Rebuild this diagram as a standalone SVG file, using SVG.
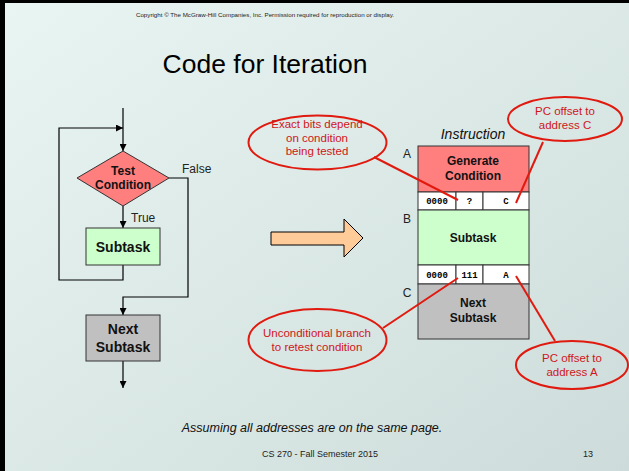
<svg xmlns="http://www.w3.org/2000/svg" width="629" height="471" viewBox="0 0 629 471">
  <defs>
    <linearGradient id="bg" x1="0" y1="0" x2="1" y2="1">
      <stop offset="0" stop-color="#e9f5f3"/>
      <stop offset="1" stop-color="#cddcda"/>
    </linearGradient>
    <marker id="arr" viewBox="0 0 10 10" refX="10" refY="5" markerWidth="7" markerHeight="7" markerUnits="userSpaceOnUse" orient="auto">
      <path d="M0,0 L10,5 L0,10 z" fill="#000"/>
    </marker>
  </defs>
  <style>
    .sans { font-family: "Liberation Sans", Arial, sans-serif; }
    .mono { font-family: "Liberation Mono", "Courier New", monospace; font-weight: bold; font-size: 9px; }
    .node { stroke: #333; stroke-width: 1; }
    .bold { font-weight: bold; font-size: 12px; fill: #111; }
    .big { font-size: 14px; }
    .flow { fill: none; stroke: #000; stroke-width: 1.2; }
    .note { fill: none; stroke: #e01a0f; stroke-width: 2; }
    .notetext { fill: #d0161b; font-size: 11.5px; }
    .lbl { font-size: 12px; fill: #222; }
    .cell { fill: #fff; stroke: #333; stroke-width: 1; }
  </style>

  <!-- slide background and frame -->
  <rect x="0" y="0" width="629" height="471" fill="url(#bg)"/>
  <rect x="0" y="0" width="5" height="471" fill="#000"/>
  <rect x="0" y="0" width="629" height="3" fill="#000"/>

  <text class="sans" x="265" y="17" font-size="6.2" text-anchor="middle" fill="#222">Copyright © The McGraw-Hill Companies, Inc.  Permission required for reproduction or display.</text>
  <text class="sans" x="265" y="73" font-size="26.5" text-anchor="middle" fill="#000">Code for Iteration</text>

  <!-- flowchart connectors -->
  <g id="connectors">
    <line class="flow" x1="123" y1="108" x2="123" y2="151" marker-end="url(#arr)"/>
    <polyline class="flow" points="123,265 123,280 59,280 59,128 123,128" marker-end="url(#arr)"/>
    <line class="flow" x1="123" y1="206" x2="123" y2="228" marker-end="url(#arr)"/>
    <polyline class="flow" points="169,178 188,178 188,297 123,297 123,315" marker-end="url(#arr)"/>
    <line class="flow" x1="123" y1="361" x2="123" y2="388" marker-end="url(#arr)"/>
  </g>
  <text class="sans lbl" x="182" y="173">False</text>
  <text class="sans lbl" x="131" y="222">True</text>

  <g id="test">
    <polygon class="node" points="123,151 169,178 123,206 77,178" fill="#ff7f7f"/>
    <text class="sans bold" x="123" y="174.5" text-anchor="middle">Test</text>
    <text class="sans bold" x="123" y="189" text-anchor="middle">Condition</text>
  </g>
  <g id="subtask">
    <rect class="node" x="86" y="228" width="74" height="37" fill="#ccffcc"/>
    <text class="sans bold big" x="123" y="251.5" text-anchor="middle">Subtask</text>
  </g>
  <g id="next">
    <rect class="node" x="86" y="315" width="74" height="46" fill="#c0c0c0"/>
    <text class="sans bold big" x="123" y="334" text-anchor="middle">Next</text>
    <text class="sans bold big" x="123" y="352" text-anchor="middle">Subtask</text>
  </g>

  <!-- block arrow -->
  <g id="bigarrow">
    <polygon points="271,232 344,232 344,219 363,238 344,257 344,245 271,245" fill="#ffcc99" stroke="#000" stroke-width="1"/>
  </g>

  <!-- instruction layout -->
  <g id="memory">
    <text class="sans" x="473" y="139" font-size="14" font-style="italic" text-anchor="middle" fill="#111">Instruction</text>
    <rect class="node" x="418" y="146" width="111" height="46" fill="#ff7f7f"/>
    <text class="sans bold" x="473" y="165" text-anchor="middle">Generate</text>
    <text class="sans bold" x="473" y="180" text-anchor="middle">Condition</text>
    <rect class="cell" x="418" y="192" width="38" height="18"/>
    <rect class="cell" x="456" y="192" width="27" height="18"/>
    <rect class="cell" x="483" y="192" width="46" height="18"/>
    <text class="mono" x="437" y="204" text-anchor="middle">0000</text>
    <text class="mono" x="469.5" y="204" text-anchor="middle">?</text>
    <text class="mono" x="506" y="204" text-anchor="middle">C</text>
    <rect class="node" x="418" y="210" width="111" height="55" fill="#ccffcc"/>
    <text class="sans bold" x="473" y="242" text-anchor="middle">Subtask</text>
    <rect class="cell" x="418" y="265" width="38" height="19"/>
    <rect class="cell" x="456" y="265" width="27" height="19"/>
    <rect class="cell" x="483" y="265" width="46" height="19"/>
    <text class="mono" x="437" y="278" text-anchor="middle">0000</text>
    <text class="mono" x="469.5" y="278" text-anchor="middle">111</text>
    <text class="mono" x="506" y="278" text-anchor="middle">A</text>
    <rect class="node" x="418" y="284" width="111" height="55" fill="#c0c0c0"/>
    <text class="sans bold" x="473" y="307" text-anchor="middle">Next</text>
    <text class="sans bold" x="473" y="322" text-anchor="middle">Subtask</text>
    <text class="sans lbl" x="407" y="158" text-anchor="middle">A</text>
    <text class="sans lbl" x="407" y="223" text-anchor="middle">B</text>
    <text class="sans lbl" x="407" y="297" text-anchor="middle">C</text>
  </g>

  <!-- callouts -->
  <g id="note-bits">
    <line class="note" x1="374" y1="157" x2="458" y2="200"/>
    <ellipse class="note" cx="317.5" cy="142.5" rx="69" ry="27"/>
    <text class="sans notetext" x="317" y="128" text-anchor="middle">Exact bits depend</text>
    <text class="sans notetext" x="317" y="141.5" text-anchor="middle">on condition</text>
    <text class="sans notetext" x="317" y="155" text-anchor="middle">being tested</text>
  </g>
  <g id="note-c">
    <line class="note" x1="543" y1="142" x2="516" y2="203"/>
    <ellipse class="note" cx="565" cy="119" rx="57" ry="22"/>
    <text class="sans notetext" x="565" y="115" text-anchor="middle">PC offset to</text>
    <text class="sans notetext" x="565" y="128.5" text-anchor="middle">address C</text>
  </g>
  <g id="note-branch">
    <line class="note" x1="383" y1="328" x2="458" y2="278"/>
    <ellipse class="note" cx="317.5" cy="340" rx="69" ry="31"/>
    <text class="sans notetext" x="317" y="337" text-anchor="middle">Unconditional branch</text>
    <text class="sans notetext" x="317" y="351" text-anchor="middle">to retest condition</text>
  </g>
  <g id="note-a">
    <line class="note" x1="516" y1="276" x2="555" y2="341"/>
    <ellipse class="note" cx="572" cy="365" rx="56" ry="24"/>
    <text class="sans notetext" x="572" y="362" text-anchor="middle">PC offset to</text>
    <text class="sans notetext" x="572" y="376" text-anchor="middle">address A</text>
  </g>

  <text class="sans" x="312" y="432" font-size="12.5" font-style="italic" text-anchor="middle" fill="#111">Assuming all addresses are on the same page.</text>
  <text class="sans" x="320" y="457" font-size="9" text-anchor="middle" fill="#222">CS 270 - Fall Semester 2015</text>
  <text class="sans" x="588" y="457" font-size="9" text-anchor="middle" fill="#222">13</text>
</svg>
